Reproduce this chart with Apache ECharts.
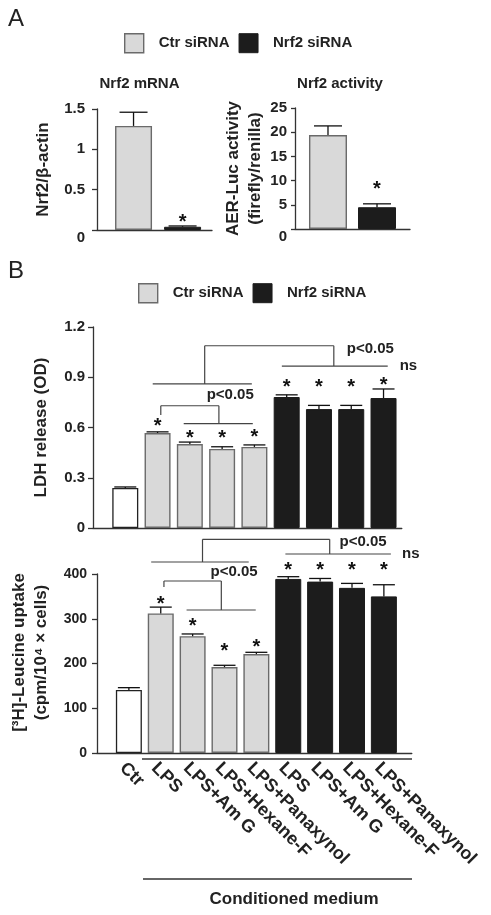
<!DOCTYPE html>
<html><head><meta charset="utf-8">
<script src="https://cdn.jsdelivr.net/npm/echarts@6/dist/echarts.min.js"></script>
<style>html,body{margin:0;padding:0;background:#fff}#c{width:491px;height:915px}</style>
</head><body><div id="c"></div>
<script>
// ---------- DATA ----------
const legendNames = ['Ctr siRNA', 'Nrf2 siRNA'];
// Panel A
const mrnaValues = [1.29, 0.04];
const mrnaErrors = [0.17, 0.01];
const activityValues = [19.4, 4.5];
const activityErrors = [1.9, 0.7];
// Panel B
const categories = ['Ctr', 'LPS', 'LPS+Am G', 'LPS+Hexane-F', 'LPS+Panaxynol',
                    'LPS', 'LPS+Am G', 'LPS+Hexane-F', 'LPS+Panaxynol'];
const groupOf = ['Ctr', 'Ctr siRNA', 'Ctr siRNA', 'Ctr siRNA', 'Ctr siRNA',
                 'Nrf2 siRNA', 'Nrf2 siRNA', 'Nrf2 siRNA', 'Nrf2 siRNA'];
const ldhValues = [0.239, 0.567, 0.501, 0.472, 0.484, 0.782, 0.710, 0.710, 0.776];
const ldhErrors = [0.006, 0.007, 0.012, 0.013, 0.012, 0.013, 0.022, 0.022, 0.054];
const leuValues = [141, 312, 261, 192, 221, 389, 383, 369, 350];
const leuErrors = [5, 14, 5, 4, 4, 5, 7, 10, 26];
// significance stars (bar index, level)
const mrnaStars = [[1, 0.16]];
const activityStars = [[1, 9.1]];
const ldhStars = [[1, 0.633], [2, 0.567], [3, 0.567], [4, 0.573], [5, 0.866], [6, 0.866], [7, 0.866], [8, 0.878]];
const leuStars = [[1, 344], [2, 295], [3, 237], [4, 248], [5, 418], [6, 418], [7, 418], [8, 418]];
// bracket segments [x1, y1, x2, y2] in axis units
const ldhBrackets = [
  [2.46, 1.088, 6.46, 1.088], [2.46, 1.088, 2.46, 0.86], [0.85, 0.86, 3.92, 0.86],
  [6.46, 1.088, 6.46, 0.967], [4.85, 0.967, 8.13, 0.967],
  [1.10, 0.730, 2.90, 0.730], [1.10, 0.730, 1.10, 0.675], [2.90, 0.730, 2.90, 0.623], [1.81, 0.623, 3.95, 0.623]
];
const ldhNotes = [[6.86, 1.069, 'p<0.05'], [8.5, 0.967, 'ns'], [2.52, 0.794, 'p<0.05']];
const leuBrackets = [
  [2.31, 477.5, 6.30, 477.5], [2.31, 477.5, 2.31, 426.8], [0.70, 426.8, 3.76, 426.8],
  [6.30, 477.5, 6.30, 444.7], [4.91, 444.7, 8.22, 444.7],
  [1.10, 384.4, 2.90, 384.4], [1.10, 384.4, 1.10, 371], [2.90, 384.4, 2.90, 319.6], [1.81, 319.6, 3.98, 319.6]
];
const leuNotes = [[6.61, 471.5, 'p<0.05'], [8.57, 444.7, 'ns'], [2.56, 404.5, 'p<0.05']];

// ---------- STYLE ----------
const FONT = '"Liberation Sans", Arial, Helvetica, sans-serif';
const TXT = '#222';
const AX = '#333';
const styles = {
  'Ctr': {color: '#ffffff', borderColor: '#222', borderWidth: 1.3},
  'Ctr siRNA': {color: '#d9d9d9', borderColor: '#6a6a6a', borderWidth: 1.4},
  'Nrf2 siRNA': {color: '#1c1c1c', borderColor: '#1c1c1c', borderWidth: 1}
};

function errSeries(xi, yi, vals, errs, cap) {
  return {
    type: 'custom', xAxisIndex: xi, yAxisIndex: yi, z: 5, clip: false,
    data: vals.map((v, i) => [i, v, errs[i]]),
    encode: {x: 0, y: 1},
    renderItem: (p, api) => {
      const x = api.value(0), y = api.value(1), e = api.value(2);
      const a = api.coord([x, y]), b = api.coord([x, y + e]);
      const s = {stroke: '#111', lineWidth: 1.3};
      return {type: 'group', children: [
        {type: 'line', shape: {x1: a[0], y1: a[1], x2: b[0], y2: b[1]}, style: s},
        {type: 'line', shape: {x1: b[0] - cap / 2, y1: b[1], x2: b[0] + cap / 2, y2: b[1]}, style: s}
      ]};
    }
  };
}
function starSeries(xi, yi, stars) {
  return {
    type: 'custom', xAxisIndex: xi, yAxisIndex: yi, z: 6, clip: false,
    data: stars, encode: {x: 0, y: 1},
    renderItem: (p, api) => {
      const c = api.coord([api.value(0), api.value(1)]);
      return {type: 'text', x: c[0], y: c[1] + 5, style: {text: '*', font: 'bold 20px ' + FONT, fill: '#111', align: 'center', verticalAlign: 'middle'}};
    }
  };
}
function bracketSeries(xi, yi, segs, notes) {
  return [{
    type: 'custom', xAxisIndex: xi, yAxisIndex: yi, z: 6, clip: false,
    data: segs, encode: {x: 0, y: 1},
    renderItem: (p, api) => {
      const a = api.coord([api.value(0), api.value(1)]), b = api.coord([api.value(2), api.value(3)]);
      return {type: 'line', shape: {x1: a[0], y1: a[1], x2: b[0], y2: b[1]}, style: {stroke: '#444', lineWidth: 1.2}};
    }
  }, {
    type: 'custom', xAxisIndex: xi, yAxisIndex: yi, z: 6, clip: false,
    data: notes.map(n => [n[0], n[1]]), encode: {x: 0, y: 1},
    renderItem: (p, api) => {
      const c = api.coord([api.value(0), api.value(1)]);
      return {type: 'text', x: c[0], y: c[1], style: {text: notes[p.dataIndex][2], font: 'bold 15px ' + FONT, fill: TXT, align: 'left', verticalAlign: 'middle'}};
    }
  }];
}
function barSeries(name, xi, yi, vals, width, filter) {
  const data = [];
  vals.forEach((v, i) => { if (filter(i)) data.push([i, v]); });
  return {type: 'bar', name: name, xAxisIndex: xi, yAxisIndex: yi, barWidth: width, barGap: '-100%',
          data: data, itemStyle: styles[name], emphasis: {disabled: true}};
}

const yLabel = (size, margin, lowZero) => ({
  fontFamily: FONT, fontWeight: 'bold', fontSize: size, color: TXT, margin: margin,
  formatter: v => (lowZero && v === 0) ? '{z|0}' : String(v),
  rich: {z: {fontFamily: FONT, fontWeight: 'bold', fontSize: size, color: TXT, padding: [16, 0, 0, 0]}}
});
const axisLine = {show: true, onZero: false, lineStyle: {color: AX, width: 1.3}};
const yTick = {show: true, length: 5, lineStyle: {color: AX, width: 1.3}};
const nameStyle = {fontFamily: FONT, fontWeight: 'bold', fontSize: 17, color: TXT, lineHeight: 22};

const legendItem = n => ({name: n, icon: 'rect', itemStyle: styles[n]});
const legendBase = {
  orient: 'horizontal', padding: 0, itemWidth: 19, itemHeight: 19, itemGap: 9, selectedMode: false,
  textStyle: {fontFamily: FONT, fontWeight: 'bold', fontSize: 15, color: TXT, padding: [0, 0, 0, 10]},
  data: legendNames.map(legendItem)
};

const option = {
  animation: false,
  backgroundColor: '#fff',
  legend: [
    Object.assign({}, legendBase, {left: 124, top: 33}),
    Object.assign({}, legendBase, {left: 138, top: 283})
  ],
  grid: [
    {left: 97, top: 109, width: 115, height: 121},
    {left: 295, top: 108, width: 115, height: 121},
    {left: 93, top: 327, width: 308.8, height: 201},
    {left: 93, top: 574, width: 318.8, height: 179}
  ],
  xAxis: [
    {gridIndex: 0, type: 'value', min: -0.745, max: 1.6, axisLine: axisLine, axisTick: {show: false}, axisLabel: {show: false}, splitLine: {show: false}},
    {gridIndex: 1, type: 'value', min: -0.673, max: 1.673, axisLine: axisLine, axisTick: {show: false}, axisLabel: {show: false}, splitLine: {show: false}},
    {gridIndex: 2, type: 'value', min: -1, max: 8.566, axisLine: axisLine, axisTick: {show: false}, axisLabel: {show: false}, splitLine: {show: false}},
    {gridIndex: 3, type: 'value', min: -1, max: 8.876, interval: 1, axisLine: axisLine, axisTick: {show: false}, splitLine: {show: false},
     axisLabel: {rotate: -45, margin: 6, verticalAlign: 'top', fontFamily: FONT, fontWeight: 'bold', fontSize: 18, color: TXT,
                 showMinLabel: true, showMaxLabel: false, hideOverlap: false,
                 formatter: v => (Number.isInteger(v) && v >= 0 && v < categories.length) ? categories[v] : ''}}
  ],
  yAxis: [
    {gridIndex: 0, type: 'value', min: 0, max: 1.5, interval: 0.5, axisLine: axisLine, axisTick: yTick, splitLine: {show: false},
     axisLabel: yLabel(15, 12, true), name: 'Nrf2/β-actin', nameLocation: 'middle', nameGap: 43, nameRotate: 90, nameTextStyle: nameStyle},
    {gridIndex: 1, type: 'value', min: 0, max: 25, interval: 5, axisLine: axisLine, axisTick: {show: true, length: 4, lineStyle: {color: AX, width: 1.3}}, splitLine: {show: false},
     axisLabel: yLabel(15, 8, true), name: 'AER-Luc activity\n(firefly/renilla)', nameLocation: 'middle', nameGap: 29, nameRotate: 90, nameTextStyle: nameStyle},
    {gridIndex: 2, type: 'value', min: 0, max: 1.2, interval: 0.3, axisLine: axisLine, axisTick: yTick, splitLine: {show: false},
     axisLabel: yLabel(15, 8, false), name: 'LDH release (OD)', nameLocation: 'middle', nameGap: 41, nameRotate: 90, nameTextStyle: nameStyle},
    {gridIndex: 3, type: 'value', min: 0, max: 400, interval: 100, axisLine: axisLine, axisTick: yTick, splitLine: {show: false},
     axisLabel: yLabel(14, 10, false), name: '[³H]-Leucine uptake\n(cpm/10⁴ × cells)', nameLocation: 'middle', nameGap: 45, nameRotate: 90,
     nameTextStyle: Object.assign({}, nameStyle, {padding: [0, 0, 0, 22]})}
  ],
  series: [
    barSeries('Ctr siRNA', 0, 0, mrnaValues, 37, i => i === 0),
    barSeries('Nrf2 siRNA', 0, 0, mrnaValues, 37, i => i === 1),
    errSeries(0, 0, mrnaValues, mrnaErrors, 28),
    starSeries(0, 0, mrnaStars),
    barSeries('Ctr siRNA', 1, 1, activityValues, 38, i => i === 0),
    barSeries('Nrf2 siRNA', 1, 1, activityValues, 38, i => i === 1),
    errSeries(1, 1, activityValues, activityErrors, 28),
    starSeries(1, 1, activityStars),
    barSeries('Ctr', 2, 2, ldhValues, 26, i => groupOf[i] === 'Ctr'),
    barSeries('Ctr siRNA', 2, 2, ldhValues, 26, i => groupOf[i] === 'Ctr siRNA'),
    barSeries('Nrf2 siRNA', 2, 2, ldhValues, 26, i => groupOf[i] === 'Nrf2 siRNA'),
    errSeries(2, 2, ldhValues, ldhErrors, 22),
    starSeries(2, 2, ldhStars),
    ...bracketSeries(2, 2, ldhBrackets, ldhNotes),
    barSeries('Ctr', 3, 3, leuValues, 26, i => groupOf[i] === 'Ctr'),
    barSeries('Ctr siRNA', 3, 3, leuValues, 26, i => groupOf[i] === 'Ctr siRNA'),
    barSeries('Nrf2 siRNA', 3, 3, leuValues, 26, i => groupOf[i] === 'Nrf2 siRNA'),
    errSeries(3, 3, leuValues, leuErrors, 22),
    starSeries(3, 3, leuStars),
    ...bracketSeries(3, 3, leuBrackets, leuNotes)
  ],
  graphic: [
    {type: 'text', x: 8, y: 19, style: {text: 'A', font: '24px ' + FONT, fill: TXT, verticalAlign: 'middle'}},
    {type: 'text', x: 8, y: 271, style: {text: 'B', font: '24px ' + FONT, fill: TXT, verticalAlign: 'middle'}},
    {type: 'text', x: 139.5, y: 84, style: {text: 'Nrf2 mRNA', font: 'bold 15px ' + FONT, fill: TXT, align: 'center', verticalAlign: 'middle'}},
    {type: 'text', x: 340, y: 84, style: {text: 'Nrf2 activity', font: 'bold 15px ' + FONT, fill: TXT, align: 'center', verticalAlign: 'middle'}},
    {type: 'line', shape: {x1: 142, y1: 759, x2: 412, y2: 759}, style: {stroke: AX, lineWidth: 1.3}},
    {type: 'line', shape: {x1: 143, y1: 879, x2: 412, y2: 879}, style: {stroke: AX, lineWidth: 1.3}},
    {type: 'text', x: 294, y: 899, style: {text: 'Conditioned medium', font: 'bold 17px ' + FONT, fill: TXT, align: 'center', verticalAlign: 'middle'}}
  ]
};
const chart = echarts.init(document.getElementById('c'), null, {renderer: 'canvas'});
chart.setOption(option);
</script>
</body></html>
